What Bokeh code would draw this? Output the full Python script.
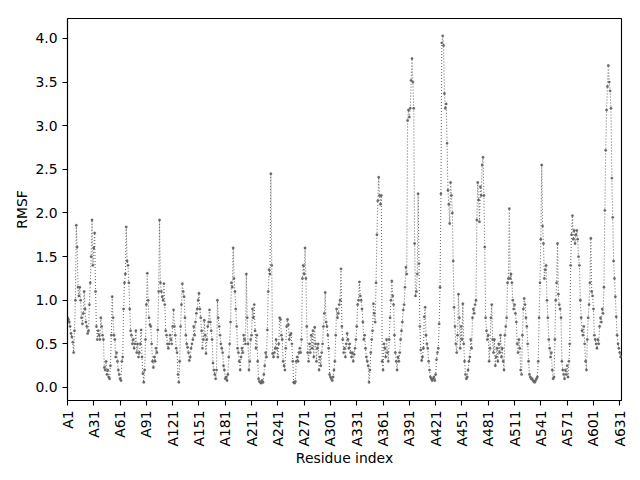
import math
from bokeh.plotting import figure
from bokeh.models import Range1d, FixedTicker, NumeralTickFormatter, ColumnDataSource
from bokeh.embed import file_html
from bokeh.resources import INLINE

# RMSF per residue
rmsf = [
    0.80, 0.78, 0.75, 0.70, 0.62, 0.58, 0.52, 0.40, 0.65, 1.00,
    1.86, 1.61, 1.15, 1.05, 1.15, 1.00, 0.80, 0.73, 0.85, 1.10,
    0.90, 0.75, 0.70, 0.62, 0.65, 0.95, 1.20, 1.50, 1.92, 1.40,
    1.60, 1.77, 1.10, 0.70, 0.55, 0.65, 0.60, 0.55, 0.80, 0.70,
    0.60, 0.55, 0.23, 0.20, 0.30, 0.15, 0.20, 0.12, 0.10, 0.25,
    0.60, 1.04, 0.80, 0.60, 0.55, 0.35, 0.40, 0.30, 0.20, 0.15,
    0.10, 0.08, 0.30, 0.35, 0.90, 1.20, 1.30, 1.84, 1.45, 1.40,
    1.20, 0.90, 0.65, 0.60, 0.50, 0.55, 0.45, 0.50, 0.65, 0.40,
    0.50, 0.35, 0.40, 0.50, 0.66, 0.35, 0.16, 0.06, 0.20, 0.55,
    0.95, 1.31, 1.00, 0.80, 0.72, 0.70, 0.50, 0.30, 0.23, 0.35,
    0.30, 0.45, 0.40, 0.66, 1.10, 1.92, 1.20, 1.10, 1.04, 1.00,
    1.19, 0.95, 0.65, 0.60, 0.50, 0.45, 0.50, 0.60, 0.55, 0.50,
    0.70, 0.89, 0.70, 0.60, 0.45, 0.40, 0.15, 0.06, 0.30, 0.70,
    0.95, 1.19, 1.10, 1.04, 0.80, 0.60, 0.50, 0.46, 0.40, 0.31,
    0.35, 0.45, 0.50, 0.55, 0.70, 0.60, 0.75, 0.85, 0.90, 1.00,
    1.08, 0.90, 0.80, 0.65, 0.45, 0.55, 0.77, 0.60, 0.39, 0.55,
    0.70, 0.75, 0.89, 0.75, 0.65, 0.55, 0.28, 0.20, 0.15, 0.10,
    0.20, 1.00, 0.80, 0.70, 0.60, 0.50, 0.45, 0.40, 0.25, 0.20,
    0.10, 0.12, 0.08, 0.15, 0.35, 0.50, 0.75, 1.20, 1.15, 1.60,
    1.25, 1.10, 0.90, 0.70, 0.45, 0.40, 0.30, 0.20, 0.35, 0.45,
    0.40, 0.60, 0.55, 0.50, 1.30, 0.80, 0.50, 0.20, 0.30, 0.55,
    0.60, 0.90, 0.80, 0.95, 0.65, 0.45, 0.60, 0.30, 0.10, 0.07,
    0.06, 0.05, 0.08, 0.06, 0.15, 0.25, 0.40, 0.35, 0.66, 1.10,
    1.35, 1.30, 2.45, 1.40, 0.39, 0.35, 0.40, 0.45, 0.55, 0.45,
    0.35, 0.50, 0.80, 0.78, 0.60, 0.55, 0.30, 0.25, 0.20, 0.45,
    0.70, 0.78, 0.72, 0.55, 0.60, 0.62, 0.50, 0.30, 0.06, 0.05,
    0.07, 0.30, 0.35, 0.30, 0.40, 0.45, 0.40, 0.55, 1.25, 1.40,
    1.30, 1.60, 1.25, 0.70, 0.40, 0.30, 0.50, 0.40, 0.60, 0.45,
    0.65, 0.35, 0.69, 0.50, 0.30, 0.45, 0.50, 0.20, 0.35, 0.25,
    0.40, 0.50, 0.70, 0.85, 1.09, 0.75, 0.70, 0.60, 0.45, 0.15,
    0.12, 0.10, 0.08, 0.12, 0.20, 0.30, 0.60, 0.90, 0.80, 0.85,
    0.95, 1.00, 1.36, 0.70, 0.55, 0.40, 0.45, 0.35, 0.50, 0.62,
    0.55, 0.45, 0.50, 0.40, 0.35, 0.40, 0.30, 0.38, 0.45, 0.55,
    0.70, 0.95, 1.00, 1.21, 1.05, 1.00, 0.90, 0.75, 0.55, 0.60,
    0.45, 0.35, 0.30, 0.25, 0.06, 0.20, 0.40, 0.55, 0.65, 0.96,
    0.85, 0.75, 1.20, 1.75, 2.14, 2.41, 2.20, 2.10, 2.20, 0.30,
    0.20, 0.50, 0.45, 0.35, 0.55, 0.40, 0.30, 0.55, 0.80, 1.00,
    1.22, 1.05, 0.95, 0.60, 0.40, 0.30, 0.20, 0.35, 0.30, 0.40,
    0.55, 0.65, 0.75, 0.89, 0.95, 1.15, 1.38, 1.30, 3.06, 3.18,
    3.10, 3.20, 3.52, 3.77, 3.50, 3.20, 1.65, 1.05, 1.10, 1.30,
    2.22, 1.42, 0.70, 0.43, 0.31, 0.35, 0.45, 0.81, 0.92, 0.60,
    0.50, 0.45, 0.30, 0.20, 0.12, 0.10, 0.08, 0.10, 0.12, 0.08,
    0.15, 0.32, 0.40, 0.45, 0.73, 1.15, 2.22, 3.95, 4.03, 3.92,
    3.37, 3.20, 3.25, 2.80, 2.26, 2.10, 1.88, 2.35, 2.20, 2.00,
    1.45, 0.92, 0.70, 0.50, 0.40, 0.60, 1.07, 0.80, 0.45, 0.70,
    0.55, 0.96, 0.50, 0.30, 0.15, 0.10, 0.12, 0.20, 0.30, 0.35,
    0.55, 0.45, 0.80, 0.90, 0.85, 0.95, 1.00, 1.92, 2.35, 2.15,
    1.90, 2.30, 2.20, 2.55, 2.64, 2.20, 1.61, 0.80, 0.65, 0.55,
    0.60, 0.30, 0.45, 0.80, 0.95, 0.55, 0.40, 0.55, 0.25, 0.35,
    0.45, 0.30, 0.50, 0.40, 0.60, 0.35, 0.45, 0.30, 0.20, 0.60,
    0.70, 0.80, 1.20, 1.25, 2.05, 1.25, 1.30, 1.20, 1.00, 0.90,
    0.95, 0.85, 0.75, 0.50, 0.40, 0.55, 0.45, 0.20, 0.15, 0.60,
    0.90, 1.02, 0.95, 0.80, 0.70, 0.50, 0.30, 0.15, 0.12, 0.10,
    0.10, 0.08, 0.07, 0.06, 0.08, 0.10, 0.12, 0.30, 0.80, 1.20,
    1.70, 2.55, 1.85, 1.65, 1.25, 1.35, 1.40, 1.00, 0.80, 0.55,
    0.45, 0.35, 0.40, 0.20, 0.10, 0.12, 0.55, 1.00, 1.20, 1.65,
    1.07, 0.95, 0.90, 0.80, 0.30, 0.20, 0.15, 0.10, 0.20, 0.15,
    0.25, 0.12, 0.30, 0.50, 1.40, 1.75, 1.97, 1.70, 1.80, 1.65,
    1.75, 1.80, 1.70, 1.50, 1.40, 1.00, 0.80, 0.65, 0.60, 0.70,
    0.50, 0.30, 0.20, 0.55, 0.80, 0.95, 1.20, 1.71, 1.10, 1.05,
    0.90, 0.60, 0.55, 0.50, 0.45, 0.55, 0.50, 0.70, 0.80, 0.75,
    0.90, 0.85, 1.15, 2.03, 2.72, 3.18, 3.45, 3.69, 3.50, 3.40,
    3.20, 2.40, 1.95, 1.45, 1.25, 1.04, 0.81, 0.60, 0.50, 0.45,
    0.40, 0.35, 0.36,
]
residue_index = list(range(len(rmsf)))
tick_positions = list(range(0, len(rmsf), 30))
tick_labels = ["A%d" % (t + 1) for t in tick_positions]
y_ticks = [0.0, 0.5, 1.0, 1.5, 2.0, 2.5, 3.0, 3.5, 4.0]

ymin, ymax = min(rmsf), max(rmsf)
span = ymax - ymin

FONT = "DejaVu Sans"
FS = "13.9px"

p = figure(
    output_backend="svg", toolbar_location=None,
    frame_width=554, frame_height=382,
    min_border_left=67, min_border_right=11, min_border_top=18, min_border_bottom=72,
    x_range=Range1d(0, len(rmsf) - 1),
    y_range=Range1d(ymin - 0.05 * span, ymax + 0.05 * span),
    background_fill_color="white", border_fill_color="white",
)
p.grid.visible = False
p.outline_line_color = "black"
p.outline_line_width = 1.1
p.outline_line_alpha = 1.0

src = ColumnDataSource(dict(x=residue_index, y=rmsf))
p.line("x", "y", source=src, line_color="#707070", line_width=1.1, line_dash="1 2")
p.scatter("x", "y", source=src, size=2.4, fill_color="#666666", line_color="#666666", line_width=0.3)

for ax in (p.xaxis[0], p.yaxis[0]):
    ax.axis_line_color = "black"
    ax.axis_line_width = 1.1
    ax.major_tick_line_color = "black"
    ax.major_tick_line_width = 1.1
    ax.major_tick_out = 5
    ax.major_tick_in = 0
    ax.minor_tick_line_color = None
    ax.major_label_text_font = FONT
    ax.major_label_text_font_size = FS
    ax.major_label_text_color = "black"
    ax.axis_label_text_font = FONT
    ax.axis_label_text_font_size = FS
    ax.axis_label_text_font_style = "normal"
    ax.axis_label_text_color = "black"
    ax.major_label_standoff = 5

p.xaxis.ticker = FixedTicker(ticks=tick_positions)
p.xaxis.major_label_overrides = {t: l for t, l in zip(tick_positions, tick_labels)}
p.xaxis.major_label_orientation = math.pi / 2
p.xaxis.axis_label = "Residue index"
p.xaxis.axis_label_standoff = 0

p.yaxis.ticker = FixedTicker(ticks=y_ticks)
p.yaxis.formatter = NumeralTickFormatter(format="0.0")
p.yaxis.axis_label = "RMSF"
p.yaxis.axis_label_standoff = 2

open("out.html", "w").write(file_html(p, INLINE))
